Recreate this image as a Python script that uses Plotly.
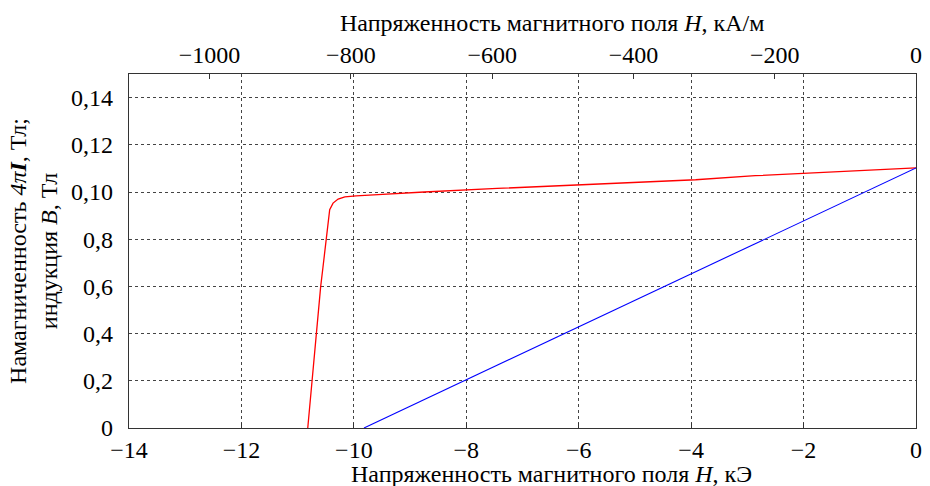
import plotly.graph_objects as go

# Data (H in kOe, 4πI and B in T as drawn)
H_red = [-10.82, -10.745, -10.66, -10.59, -10.55, -10.49, -10.43, -10.37, -10.28,
         -10.16, -9.96, -9.57, -9.13, -8.75, -7.45, -5.69, -3.92, -2.86, -1.89, 0.0]
M_red = [0.0, 0.02, 0.04, 0.06, 0.068, 0.08, 0.0925, 0.0953, 0.0970,
         0.0979, 0.0984, 0.0989, 0.0996, 0.1000, 0.1015, 0.1034, 0.1052, 0.1069, 0.1081, 0.1102]
H_blue = [-9.82, -6.39, 0.0]
B_blue = [0.0, 0.0384, 0.1102]

x_ticks = [-14, -12, -10, -8, -6, -4, -2, 0]
x_ticktext = ["\u221214", "\u221212", "\u221210", "\u22128", "\u22126", "\u22124", "\u22122", "0"]
top_ticks = [-1000, -800, -600, -400, -200, 0]
top_ticktext = ["\u22121000", "\u2212800", "\u2212600", "\u2212400", "\u2212200", "0"]
y_ticks = [0, 0.02, 0.04, 0.06, 0.08, 0.10, 0.12, 0.14]
y_ticktext = ["0", "0,2", "0,4", "0,6", "0,8", "0,10", "0,12", "0,14"]

bottom_title = "Напряженность магнитного поля <i>H</i>, кЭ"
top_title = "Напряженность магнитного поля <i>H</i>, кА/м"
y_title = "Намагниченность <i>4π</i><b><i>I</i></b>, Тл;<br>индукция <i>B</i>, Тл"

KOE_TO_KAM = 79.577

FONT = "Liberation Serif"
FS = 24

fig = go.Figure()
fig.add_trace(go.Scatter(x=H_red, y=M_red, mode="lines",
                         line=dict(color="#ff0000", width=1.3), showlegend=False))
fig.add_trace(go.Scatter(x=H_blue, y=B_blue, mode="lines",
                         line=dict(color="#0000ff", width=1.1), showlegend=False))
# invisible trace to activate top axis
fig.add_trace(go.Scatter(x=[-14 * KOE_TO_KAM, 0], y=[None, None], xaxis="x2",
                         mode="lines", showlegend=False, hoverinfo="skip"))

grid = dict(showgrid=True, gridcolor="#444444", griddash="dot", gridwidth=1)

fig.update_layout(
    width=930, height=486,
    margin=dict(l=129, r=8, t=74, b=58),
    paper_bgcolor="white", plot_bgcolor="white",
    hovermode=False,
    font=dict(family=FONT, size=FS, color="black"),
    xaxis=dict(range=[-14, 0], tickvals=x_ticks, ticktext=x_ticktext,
               ticks="inside", ticklen=5, tickcolor="#333",
               showline=True, linecolor="#333", linewidth=1.3, mirror=False,
               zeroline=False, ticklabelstandoff=0,
               **grid),
    xaxis2=dict(range=[-14 * KOE_TO_KAM, 0], overlaying="x", side="top",
                tickvals=top_ticks, ticktext=top_ticktext,
                ticks="inside", ticklen=5, tickcolor="#333",
                showline=True, linecolor="#333", linewidth=1.3,
                showgrid=False, zeroline=False, ticklabelstandoff=0),
    yaxis=dict(range=[0, 0.15], tickvals=y_ticks, ticktext=y_ticktext,
               ticks="", showline=True, linecolor="#333", linewidth=1.3,
               mirror=True, zeroline=False, ticklabelstandoff=10,
               title=dict(text=y_title, standoff=6, font=dict(size=FS)),
               **grid),
    annotations=[
        dict(text=bottom_title, xref="paper", yref="paper", x=0.537, y=0,
             yshift=-46, xanchor="center", yanchor="middle", showarrow=False,
             font=dict(size=FS)),
        dict(text=top_title, xref="paper", yref="paper", x=0.537, y=1,
             yshift=51, xanchor="center", yanchor="middle", showarrow=False,
             font=dict(size=FS)),
    ],
)

fig.write_html("out.html",
               config={"displayModeBar": False, "staticPlot": True},
               post_script="document.body.style.margin='0';"
                           "document.body.style.overflow='hidden';")
